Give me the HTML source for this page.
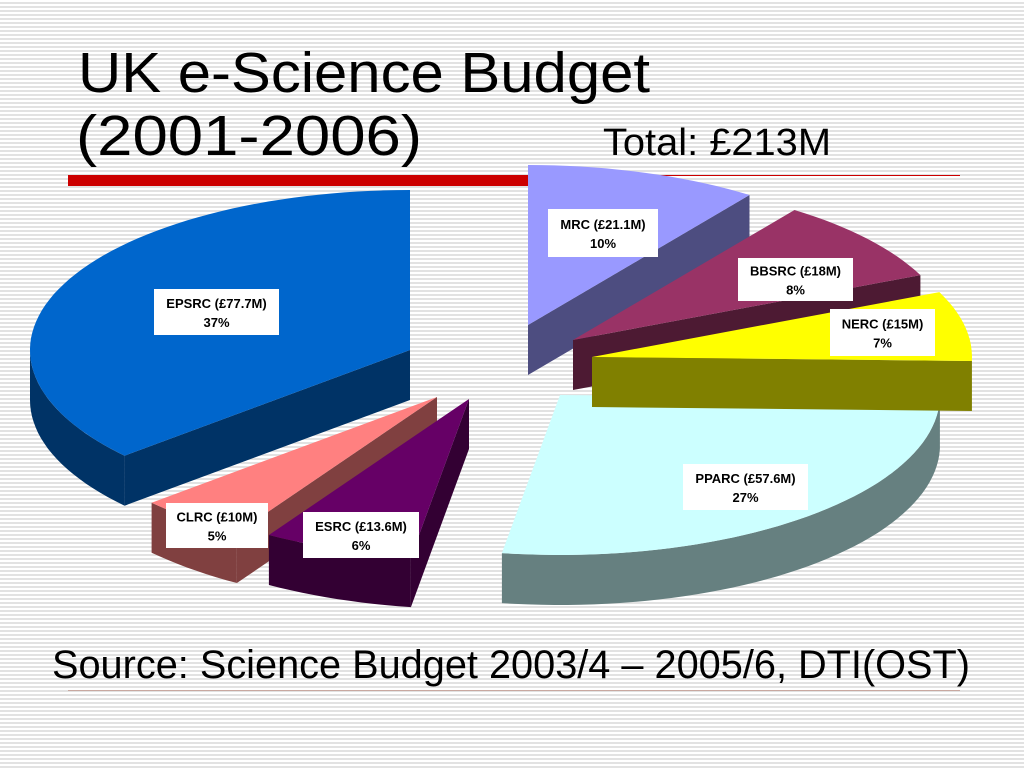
<!DOCTYPE html>
<html><head><meta charset="utf-8"><style>
html,body{margin:0;padding:0;}
body{width:1024px;height:768px;overflow:hidden;background:#fff repeating-linear-gradient(to bottom,#fff 0px,#fff 2px,#e2e2e2 2px,#e2e2e2 4px);}
svg{position:absolute;left:0;top:0;}
text{font-family:"Liberation Sans",Arial,sans-serif;}
</style></head><body>
<svg id="chart" width="1024" height="768" viewBox="0 0 1024 768">
  <text x="78" y="92" font-size="57" textLength="572" lengthAdjust="spacingAndGlyphs">UK e-Science Budget</text>
  <text x="76" y="155" font-size="57" textLength="346" lengthAdjust="spacingAndGlyphs">(2001-2006)</text>
  <text x="603" y="155" font-size="38" textLength="228" lengthAdjust="spacingAndGlyphs">Total: £213M</text>
  <rect x="68" y="175" width="462" height="11" fill="#cc0000"/>
  <line x1="528" y1="175.5" x2="960" y2="175.5" stroke="#cc0000" stroke-width="1"/>
  <g id="pie"></g>
  <g id="labels"></g>
  <text x="52" y="678" font-size="40" textLength="918" lengthAdjust="spacingAndGlyphs">Source: Science Budget 2003/4 – 2005/6, DTI(OST)</text>
  <line x1="68" y1="690.5" x2="960" y2="690.5" stroke="#c8a8a0" stroke-width="1"/>
</svg>
<script>
// data (clockwise from 12 o'clock)
const categories = ["MRC","BBSRC","NERC","PPARC","ESRC","CLRC","EPSRC"];
const amounts = [21.1,18,15,57.6,13.6,10,77.7];
const percentLabels = ["10%","8%","7%","27%","6%","5%","37%"];
const amountLabels = ["£21.1M","£18M","£15M","£57.6M","£13.6M","£10M","£77.7M"];
// styling / layout
const topColors = ["#9999ff","#993366","#ffff00","#ccffff","#660066","#ff8080","#0066cc"];
const sideColors = ["#4d4d80","#4d1a33","#808000","#668080","#330033","#804040","#003366"];
const apexX = [528,573,592,560,469,437,410];
const apexY = [325,340,357,395,399,397,350];
const labelBoxes = [[548,209,110,48],[738,258,115,43],[830,309,105,47],[683,464,125,46],[303,512,116,46],[166,503,102,45],[154,289,125,46]];
const drawOrder = [0,1,3,2,6,5,4];
const RX = 380, RY = 160, DEPTH = 50;
const NS = "http://www.w3.org/2000/svg";
const total = amounts.reduce((a,b)=>a+b,0);
const starts = [], ends = [];
let acc = 0;
amounts.forEach((v,i)=>{ starts.push(acc/total*360); acc += v; ends.push(acc/total*360); });
function pt(i,deg,dy){ const r=deg*Math.PI/180; return [apexX[i]+RX*Math.sin(r), apexY[i]-RY*Math.cos(r)+(dy||0)]; }
function arcPts(i,a0,a1,dy){ const out=[]; const n=Math.max(2,Math.ceil(Math.abs(a1-a0)/2)); for(let k=0;k<=n;k++){ out.push(pt(i,a0+(a1-a0)*k/n,dy)); } return out; }
function poly(pts){ return "M"+pts.map(p=>p[0].toFixed(1)+","+p[1].toFixed(1)).join("L")+"Z"; }
const pie = document.getElementById("pie");
function addPath(d,fill,name){
  const p=document.createElementNS(NS,"path");
  p.setAttribute("d",d); p.setAttribute("fill",fill);
  
  
  pie.appendChild(p);
}
drawOrder.forEach(i=>{
  const s=starts[i], e=ends[i], ax=apexX[i], ay=apexY[i];
  const nm=categories[i].toLowerCase();
  const sr=Math.sin(s*Math.PI/180), er=Math.sin(e*Math.PI/180);
  if(sr < -0.01){ const q=pt(i,s); addPath(poly([[ax,ay],q,[q[0],q[1]+DEPTH],[ax,ay+DEPTH]]),sideColors[i],"slice-"+nm+"-side"); }
  if(er > 0.01){ const q=pt(i,e); addPath(poly([[ax,ay],q,[q[0],q[1]+DEPTH],[ax,ay+DEPTH]]),sideColors[i],"slice-"+nm+"-side"); }
  const a0=Math.max(s,90), a1=Math.min(e,270);
  if(a1>a0){ const top=arcPts(i,a0,a1,0), bot=arcPts(i,a1,a0,DEPTH); addPath(poly(top.concat(bot)),sideColors[i],"slice-"+nm+"-outer-wall"); }
  addPath(poly([[ax,ay]].concat(arcPts(i,s,e,0))),topColors[i],"slice-"+nm);
});
const lg=document.getElementById("labels");
categories.forEach((c,i)=>{
  const b=labelBoxes[i];
  const r=document.createElementNS(NS,"rect");
  r.setAttribute("x",b[0]); r.setAttribute("y",b[1]); r.setAttribute("width",b[2]); r.setAttribute("height",b[3]); r.setAttribute("fill","#fff");
  
  
  lg.appendChild(r);
  const t1=document.createElementNS(NS,"text");
  t1.setAttribute("x",b[0]+b[2]/2); t1.setAttribute("y",b[1]+b[3]/2-4); t1.setAttribute("text-anchor","middle"); t1.setAttribute("font-size","13"); t1.setAttribute("font-weight","bold");
  t1.textContent=c+" ("+amountLabels[i]+")";
  
  
  lg.appendChild(t1);
  const t2=document.createElementNS(NS,"text");
  t2.setAttribute("x",b[0]+b[2]/2); t2.setAttribute("y",b[1]+b[3]/2+15); t2.setAttribute("text-anchor","middle"); t2.setAttribute("font-size","13"); t2.setAttribute("font-weight","bold");
  t2.textContent=percentLabels[i];
  
  
  lg.appendChild(t2);
});
</script>
</body></html>
